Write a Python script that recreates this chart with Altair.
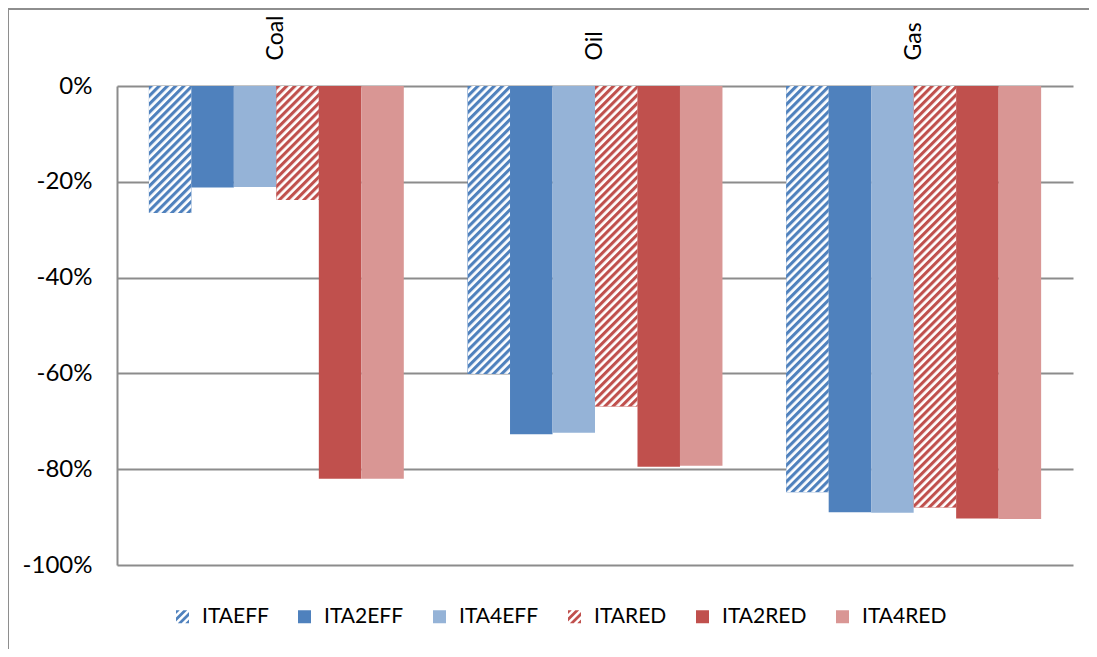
import base64
import altair as alt
import pandas as pd

# ---- data ----
categories = ["Coal", "Oil", "Gas"]
series = ["ITAEFF", "ITA2EFF", "ITA4EFF", "ITARED", "ITA2RED", "ITA4RED"]
ITAEFF = [-26.5, -60.1, -84.8]
ITA2EFF = [-21.2, -72.7, -89.0]
ITA4EFF = [-21.1, -72.4, -89.1]
ITARED = [-23.8, -66.9, -88.0]
ITA2RED = [-82.0, -79.5, -90.3]
ITA4RED = [-82.0, -79.3, -90.4]
y_ticks = [0, -0.2, -0.4, -0.6, -0.8, -1.0]

values = {"ITAEFF": ITAEFF, "ITA2EFF": ITA2EFF, "ITA4EFF": ITA4EFF,
          "ITARED": ITARED, "ITA2RED": ITA2RED, "ITA4RED": ITA4RED}
rows = []
for s in series:
    for c, v in zip(categories, values[s]):
        rows.append({"cat": c, "series": s, "value": v / 100.0})
df = pd.DataFrame(rows)
legend_df = pd.DataFrame({"series": series})

# ---- styles ----
FONT = "Lato"
BLUE, LBLUE, RED, LRED = "#4F81BD", "#95B3D7", "#C0504D", "#D99694"
colors = [BLUE, BLUE, LBLUE, RED, RED, LRED]
GRID = "#8C8C8C"


def hatch_url(color):
    svg = (
        '<svg xmlns="http://www.w3.org/2000/svg" width="100%" height="100%">'
        '<defs><pattern id="p" width="5.8" height="5.8" patternUnits="userSpaceOnUse" '
        'patternTransform="rotate(45)">'
        '<rect width="5.8" height="5.8" fill="#ffffff"/>'
        f'<rect width="3.1" height="5.8" fill="{color}"/>'
        '</pattern></defs>'
        '<rect width="100%" height="100%" fill="url(#p)"/></svg>'
    )
    return "data:image/svg+xml;base64," + base64.b64encode(svg.encode()).decode()


def clip(poly, f):
    out = []
    n = len(poly)
    for i in range(n):
        p, q = poly[i], poly[(i + 1) % n]
        fp, fq = f(p), f(q)
        if fp >= 0:
            out.append(p)
        if (fp >= 0) != (fq >= 0):
            t = fp / (fp - fq)
            out.append((p[0] + t * (q[0] - p[0]), p[1] + t * (q[1] - p[1])))
    return out


def hatch_path():
    square = [(-1, -1), (1, -1), (1, 1), (-1, 1)]
    parts = []
    for c in [-1.72, -0.57, 0.57, 1.72]:
        a, b = c - 0.3, c + 0.3
        poly = clip(square, lambda p: p[0] + p[1] - a)
        poly = clip(poly, lambda p: b - (p[0] + p[1]))
        if len(poly) >= 3:
            parts.append("M" + " L".join(f"{x:.3f},{y:.3f}" for x, y in poly) + " Z")
    return " ".join(parts)


HP = hatch_path()
shapes = [HP, "square", "square", HP, "square", "square"]

W, H = 956, 479

x_enc = alt.X("cat:N", sort=categories,
              scale=alt.Scale(domain=categories, paddingInner=0.2, paddingOuter=0.1),
              axis=alt.Axis(orient="top", title=None, labelAngle=270, labelAlign="left",
                            labelBaseline="middle", labelPadding=26, domain=False,
                            ticks=False, tickSize=0, grid=False, labelFont=FONT,
                            labelFontSize=23, labelColor="#000000"))
xo_enc = alt.XOffset("series:N", sort=series,
                     scale=alt.Scale(domain=series, paddingInner=0, paddingOuter=0))
y_enc = alt.Y("value:Q", scale=alt.Scale(domain=[-1, 0], nice=False),
              axis=alt.Axis(title=None, values=y_ticks,
                            labelExpr="(datum.value < 0 ? '-' : '') + format(abs(datum.value) * 100, '.0f') + '%'",
                            labelFont=FONT, labelFontSize=24, labelColor="#000000",
                            labelPadding=25, ticks=False, tickSize=0,
                            grid=True, gridColor=GRID, gridWidth=2,
                            domain=True, domainColor=GRID, domainWidth=2))

color_scale = alt.Scale(domain=series, range=colors)

leg = alt.Legend(title=None, orient="none", legendX=55, legendY=520, direction="horizontal",
                 columns=6, labelFont=FONT, labelFontSize=21, labelColor="#000000",
                 symbolSize=169, symbolStrokeWidth=0, symbolOpacity=1, labelOffset=9,
                 columnPadding=25, padding=0)

frame = alt.Chart(pd.DataFrame({"a": [0]})).mark_rect(
    fill="transparent", stroke="#8E8E8E", strokeWidth=2
).encode(x=alt.value(-109), x2=alt.value(1100), y=alt.value(-77), y2=alt.value(700))

bars = alt.Chart(df).mark_bar().encode(
    x=x_enc, xOffset=xo_enc, y=y_enc, y2=alt.datum(0),
    color=alt.Color("series:N", scale=color_scale, sort=series, legend=leg),
)

hatch_blue = alt.Chart(df).transform_filter(alt.datum.series == "ITAEFF").mark_image(
    aspect=False).encode(x=x_enc, xOffset=xo_enc, y=y_enc, y2=alt.datum(0),
                         url=alt.value(hatch_url(BLUE)))
hatch_red = alt.Chart(df).transform_filter(alt.datum.series == "ITARED").mark_image(
    aspect=False).encode(x=x_enc, xOffset=xo_enc, y=y_enc, y2=alt.datum(0),
                         url=alt.value(hatch_url(RED)))

legend_layer = alt.Chart(legend_df).mark_point(filled=True, opacity=0).encode(
    color=alt.Color("series:N", scale=color_scale, sort=series, legend=leg),
    shape=alt.Shape("series:N", scale=alt.Scale(domain=series, range=shapes), sort=series, legend=leg),
)

chart = alt.layer(frame, bars, hatch_blue, hatch_red, legend_layer).properties(
    width=W, height=H,
    autosize=alt.AutoSizeParams(type="none"),
    padding={"left": 109, "top": 78, "right": 16, "bottom": 84},
    background="#ffffff",
).configure_view(strokeWidth=0)

chart.save("out.html", embed_options={"renderer": "svg", "actions": False})
